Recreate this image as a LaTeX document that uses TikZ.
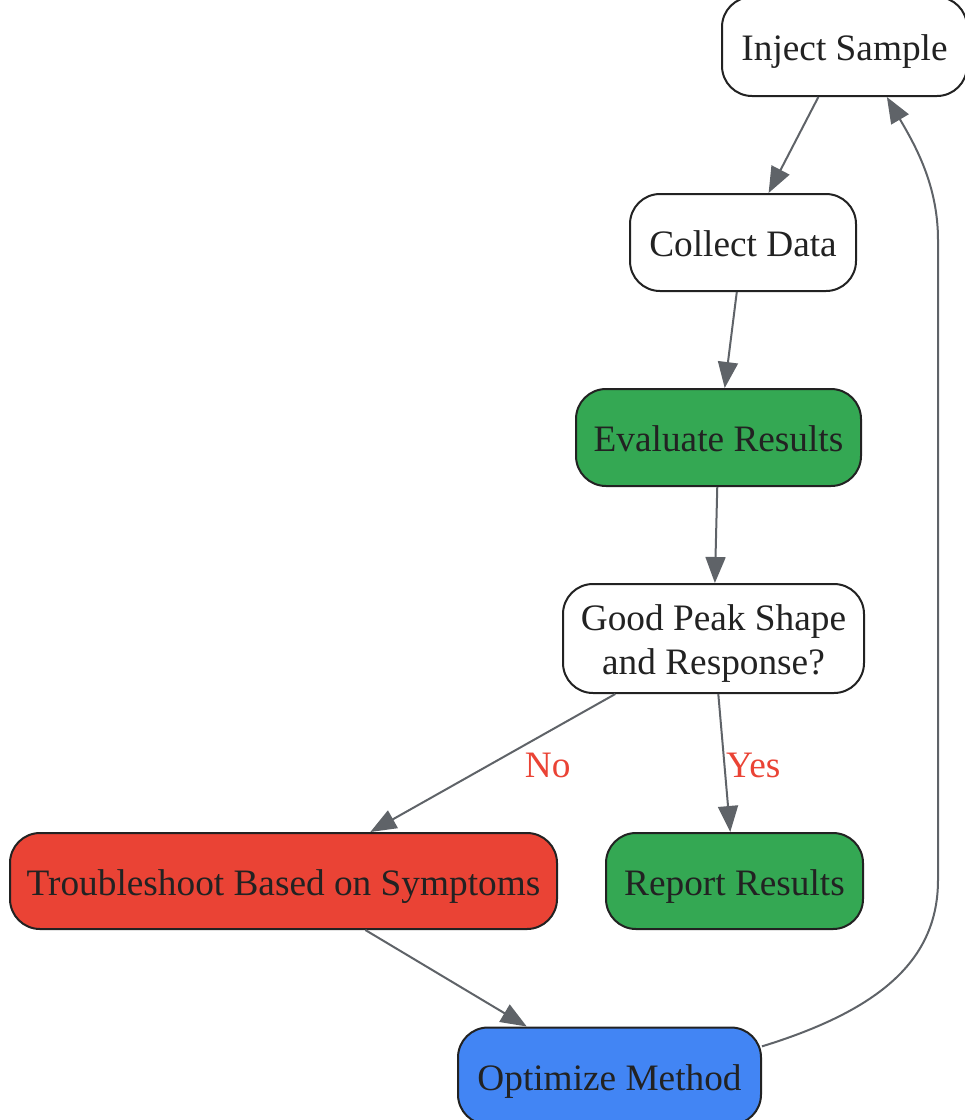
\documentclass[tikz,border=0pt]{standalone}
\usepackage{fontspec}
\setmainfont{Liberation Serif}
\usetikzlibrary{arrows.meta}
\definecolor{edgegray}{RGB}{95,99,104}
\definecolor{txt}{RGB}{34,34,34}
\definecolor{gGreen}{RGB}{52,168,83}
\definecolor{gRed}{RGB}{234,67,53}
\definecolor{gBlue}{RGB}{66,133,244}
\tikzset{
  box/.style={draw=txt, line width=2pt, rounded corners=30pt, fill=white, text=txt,
    align=center, inner sep=0pt, font=\fontsize{37.3}{44}\selectfont,
    text height=30pt, text depth=2pt},
  twoline/.style={text height=75pt, text depth=4pt},
  conn/.style={draw=edgegray, line width=2pt, -{Triangle[length=26pt,width=20pt]}},
  lbl/.style={text=gRed, font=\fontsize{37.3}{44}\selectfont, inner sep=0pt}
}
\begin{document}
\begin{tikzpicture}[x=1pt,y=-1pt]
\useasboundingbox (0,0) rectangle (965,1120);
\clip (0,0) rectangle (965,1120);
\node[box, minimum width=245pt, minimum height=99pt] (inj) at (844.5,46.5) {Inject Sample};
\node[box, minimum width=226pt, minimum height=97pt] (col) at (743,242.5) {Collect Data};
\node[box, fill=gGreen, minimum width=285pt, minimum height=97pt] (eva) at (718.5,437.5) {Evaluate Results};
\node[box, twoline, minimum width=301pt, minimum height=109pt] (good) at (713.5,638.5) {Good Peak Shape\\and Response?};
\node[box, fill=gRed, minimum width=547pt, minimum height=96pt] (trb) at (283.5,881) {Troubleshoot Based on Symptoms};
\node[box, fill=gGreen, minimum width=257pt, minimum height=96pt] (rep) at (734.5,881) {Report Results};
\node[box, fill=gBlue, minimum width=303pt, minimum height=97pt] (opt) at (609.5,1076) {Optimize Method};

\draw[conn] (inj) -- (col);
\draw[conn] (col) -- (eva);
\draw[conn] (eva) -- (good);
\draw[conn] (good) -- node[lbl, pos=0.5, xshift=55pt, yshift=-2pt] {No} (trb);
\draw[conn] (good) -- node[lbl, pos=0.5, xshift=29pt, yshift=-2pt] {Yes} (rep);
\draw[conn] (trb) -- (opt);
\draw[conn] (opt.11.5) .. controls (880,1010) and (938,960) .. (938,880)
  -- (938,240) .. controls (938,185) and (915,145) .. (inj.-50.7);
\end{tikzpicture}
\end{document}
